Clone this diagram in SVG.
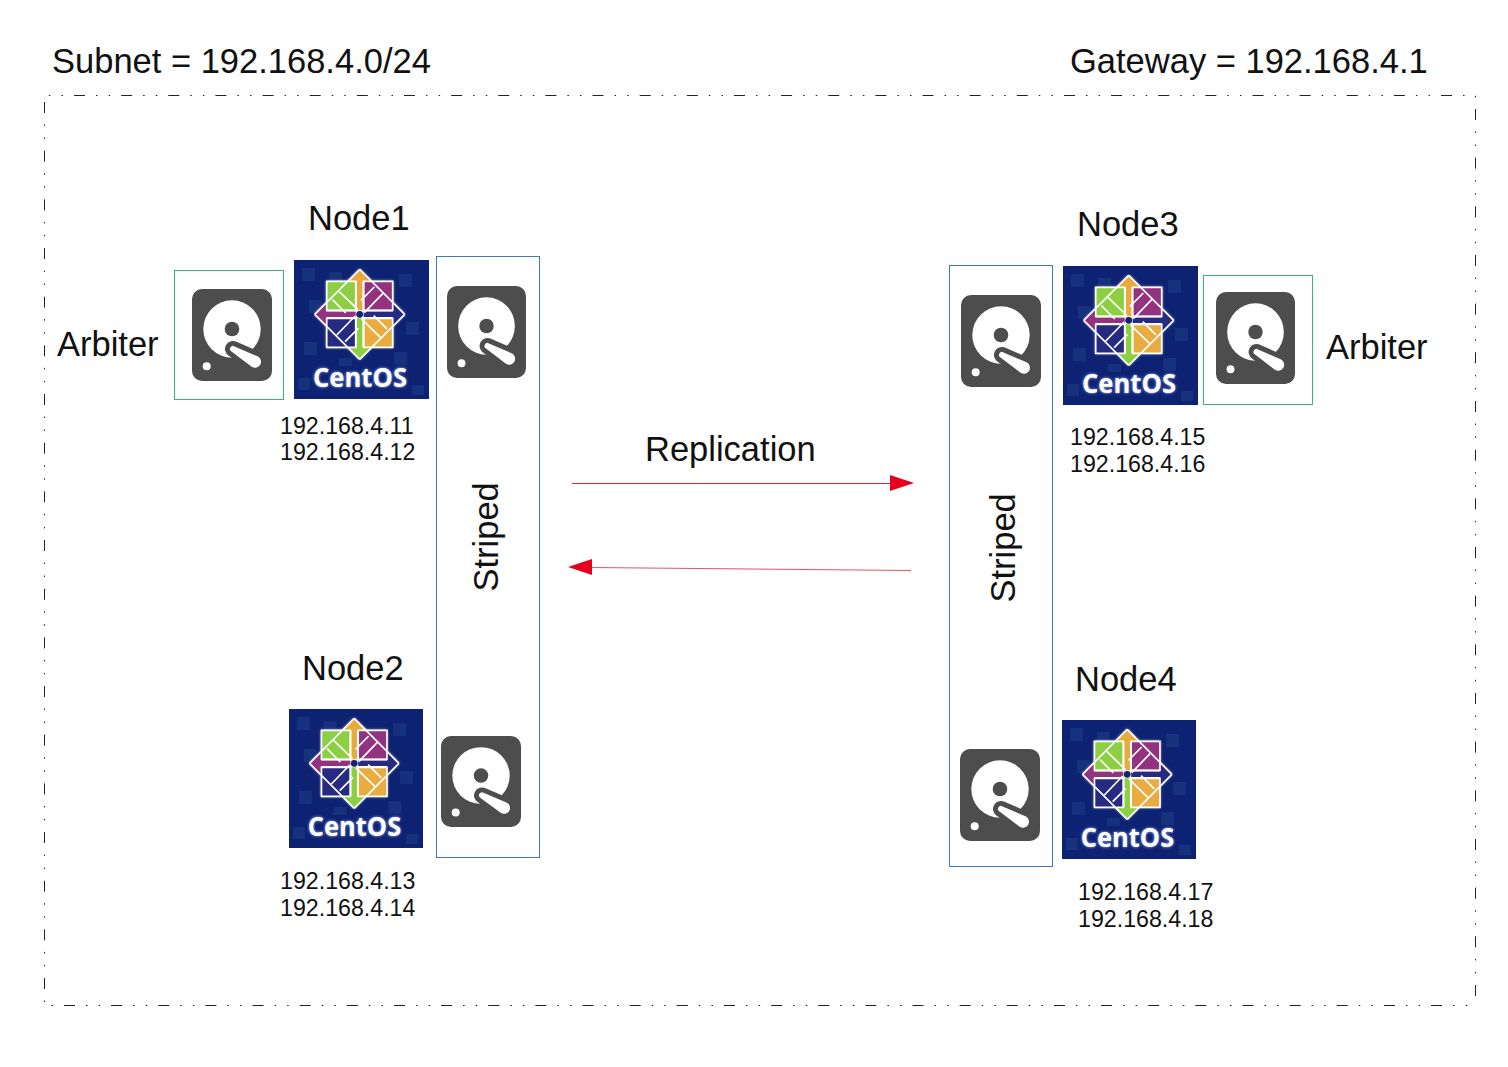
<svg xmlns="http://www.w3.org/2000/svg" width="1508" height="1067" viewBox="0 0 1508 1067">
<style>
text{font-family:"Liberation Sans",Arial,sans-serif;fill:#111}
.t{font-size:34.5px}
.ip{font-size:23.2px}
.g{fill:none;stroke:#3cb371;stroke-width:1}
.b{fill:none;stroke:#3b78c8;stroke-width:1}
.bd{fill:none;stroke:#222;stroke-width:1}
.h{stroke-dasharray:11 11 1.5 11.14 1.5 11}
.v{stroke-dasharray:11 11.5 1.5 11.5 1.5 11.67}
.logo{font-size:27px;font-weight:700;fill:#fff;font-family:"Open Sans","Liberation Sans",sans-serif}
.w{fill:none;stroke:#fff;stroke-width:1.7}
</style>
<defs>
<filter id="glow" x="-20%" y="-20%" width="140%" height="140%"><feGaussianBlur stdDeviation="1.8"/></filter>
<filter id="soft" x="-2%" y="-2%" width="104%" height="104%"><feGaussianBlur stdDeviation="0.4"/></filter>
<symbol id="disk" viewBox="0 0 80 92" preserveAspectRatio="none" overflow="visible">
<rect width="80" height="92" rx="10" fill="#4d4d4d"/>
<circle cx="40" cy="40" r="28.7" fill="#fff"/>
<circle cx="40" cy="40" r="7.3" fill="#4d4d4d"/>
<circle cx="14.7" cy="77.3" r="4" fill="#fff"/>
<path d="M42.5,57.4 L66,67.5 A6 6 0 0 1 60,77.9 L39.5,62.6 A3 3 0 0 1 42.5,57.4Z" fill="#fff" stroke="#4d4d4d" stroke-width="10" stroke-linejoin="round" paint-order="stroke"/>
</symbol>
<g id="quad">
<path class="w" d="M-33,-33H-4V-4H-33Z"/>
<path class="w" d="M-20.7,-23 -1.7,-4.6M-27.3,-14.6 -14,-1.3"/>
<path class="w" d="M0,-45 -45,0"/>
<path class="w" d="M-3.6,-33V-3.6M3.6,-33V-3.6"/>
</g>
<symbol id="centos" viewBox="0 0 135 139" preserveAspectRatio="none" overflow="visible">
<g filter="url(#soft)">
<rect width="135" height="139" fill="#0f2472"/>
<g fill="#16307c">
<rect x="8" y="8" width="13" height="13"/><rect x="35" y="12" width="13" height="13"/><rect x="105" y="14" width="13" height="13"/><rect x="15" y="40" width="13" height="13"/><rect x="112" y="62" width="13" height="13"/><rect x="10" y="82" width="13" height="13"/><rect x="45" y="98" width="13" height="8"/><rect x="100" y="92" width="13" height="13"/><rect x="4" y="118" width="12" height="12"/><rect x="118" y="125" width="12" height="10"/>
</g>
<g transform="translate(65.7 54.3)">
<path d="M0,-45 45,0 0,45 -45,0Z M-33,-33H33V33H-33Z" fill="#fff" fill-rule="nonzero" filter="url(#glow)"/>
<polygon points="0,-45 12,-33 3.6,-33 3.6,-4 -3.6,-4 -3.6,-33 -12,-33" fill="#e8a93c"/>
<polygon points="45,0 33,12 33,3.6 4,3.6 4,-3.6 33,-3.6 33,-12" fill="#262a80"/>
<polygon points="0,45 -12,33 -3.6,33 -3.6,4 3.6,4 3.6,33 12,33" fill="#8ccf42"/>
<polygon points="-45,0 -33,-12 -33,-3.6 -4,-3.6 -4,3.6 -33,3.6 -33,12" fill="#93317e"/>
<rect x="-33" y="-33" width="29" height="29" fill="#8ccf42"/>
<rect x="4" y="-33" width="29" height="29" fill="#93317e"/>
<rect x="4" y="4" width="29" height="29" fill="#e8ac40"/>
<rect x="-33" y="4" width="29" height="29" fill="#262a80"/>
<use href="#quad"/>
<use href="#quad" transform="rotate(90)"/>
<use href="#quad" transform="rotate(180)"/>
<use href="#quad" transform="rotate(270)"/>
<circle r="3.4" fill="#14206e"/>
</g>
</g>
<text class="logo" x="66" y="127" text-anchor="middle" textLength="94" lengthAdjust="spacingAndGlyphs" style="fill:#9db8ff" filter="url(#glow)">CentOS</text>
<text class="logo" x="66" y="127" text-anchor="middle" textLength="94" lengthAdjust="spacingAndGlyphs">CentOS</text>
</symbol>
</defs>
<rect width="1508" height="1067" fill="#fff"/>
<g id="subnet-border">
<line class="bd h" x1="44.5" y1="95.5" x2="1475.5" y2="95.5" stroke-dashoffset="17.64"/>
<line class="bd v" x1="44.5" y1="95.5" x2="44.5" y2="1005.5" stroke-dashoffset="42.17"/>
<line class="bd v" x1="1475.5" y1="95.5" x2="1475.5" y2="1005.5" stroke-dashoffset="35.2"/>
<line class="bd h" x1="44.5" y1="1005.5" x2="1475.5" y2="1005.5" stroke-dashoffset="27.64"/>
</g>
<text id="subnet-label" class="t" x="52" y="73">Subnet = 192.168.4.0/24</text>
<text id="gateway-label" class="t" x="1070" y="73">Gateway = 192.168.4.1</text>
<g id="node1">
<text class="t" x="308" y="230">Node1</text>
<use href="#centos" x="294" y="260" width="135" height="139"/>
<text class="ip" x="280" y="433.5">192.168.4.11</text>
<text class="ip" x="280" y="460">192.168.4.12</text>
</g>
<g id="arbiter1">
<text class="t" x="57" y="356">Arbiter</text>
<rect class="g" x="174.5" y="270.5" width="109" height="129"/>
<use href="#disk" x="192" y="289" width="80" height="92"/>
</g>
<g id="striped1">
<rect class="b" x="436.5" y="256.5" width="103" height="601"/>
<use href="#disk" x="447" y="286" width="79" height="92"/>
<use href="#disk" x="441" y="736" width="80" height="91"/>
<text class="t" transform="translate(497.5 591.5) rotate(-90)">Striped</text>
</g>
<g id="node2">
<text class="t" x="302" y="680">Node2</text>
<use href="#centos" x="289" y="709" width="134" height="139"/>
<text class="ip" x="280" y="888.5">192.168.4.13</text>
<text class="ip" x="280" y="915.5">192.168.4.14</text>
</g>
<g id="node3">
<text class="t" x="1077" y="236">Node3</text>
<use href="#centos" x="1063" y="266" width="135" height="139"/>
<text class="ip" x="1070" y="444.5">192.168.4.15</text>
<text class="ip" x="1070" y="471.5">192.168.4.16</text>
</g>
<g id="arbiter3">
<rect class="g" x="1203.5" y="275.5" width="109" height="129"/>
<use href="#disk" x="1216" y="292" width="79" height="92"/>
<text class="t" x="1326" y="359">Arbiter</text>
</g>
<g id="striped2">
<rect class="b" x="949.5" y="265.5" width="103" height="601"/>
<use href="#disk" x="961" y="295" width="80" height="92"/>
<use href="#disk" x="960" y="749" width="80" height="92"/>
<text class="t" transform="translate(1014.5 602.5) rotate(-90)">Striped</text>
</g>
<g id="node4">
<text class="t" x="1075" y="691">Node4</text>
<use href="#centos" x="1062" y="720" width="134" height="139"/>
<text class="ip" x="1078" y="899.5">192.168.4.17</text>
<text class="ip" x="1078" y="926.5">192.168.4.18</text>
</g>
<g id="connectors">
<line x1="572" y1="483.5" x2="892" y2="483.5" stroke="#e0283c" stroke-width="1"/>
<polygon points="890,475 914,483 890,491" fill="#e60020"/>
<line x1="911" y1="570.5" x2="590" y2="567.5" stroke="#e0283c" stroke-width="1" stroke-opacity=".8"/>
<polygon points="592,559 568,567 592,575" fill="#e60020"/>
<text class="t" x="645" y="461">Replication</text>
</g>
</svg>
